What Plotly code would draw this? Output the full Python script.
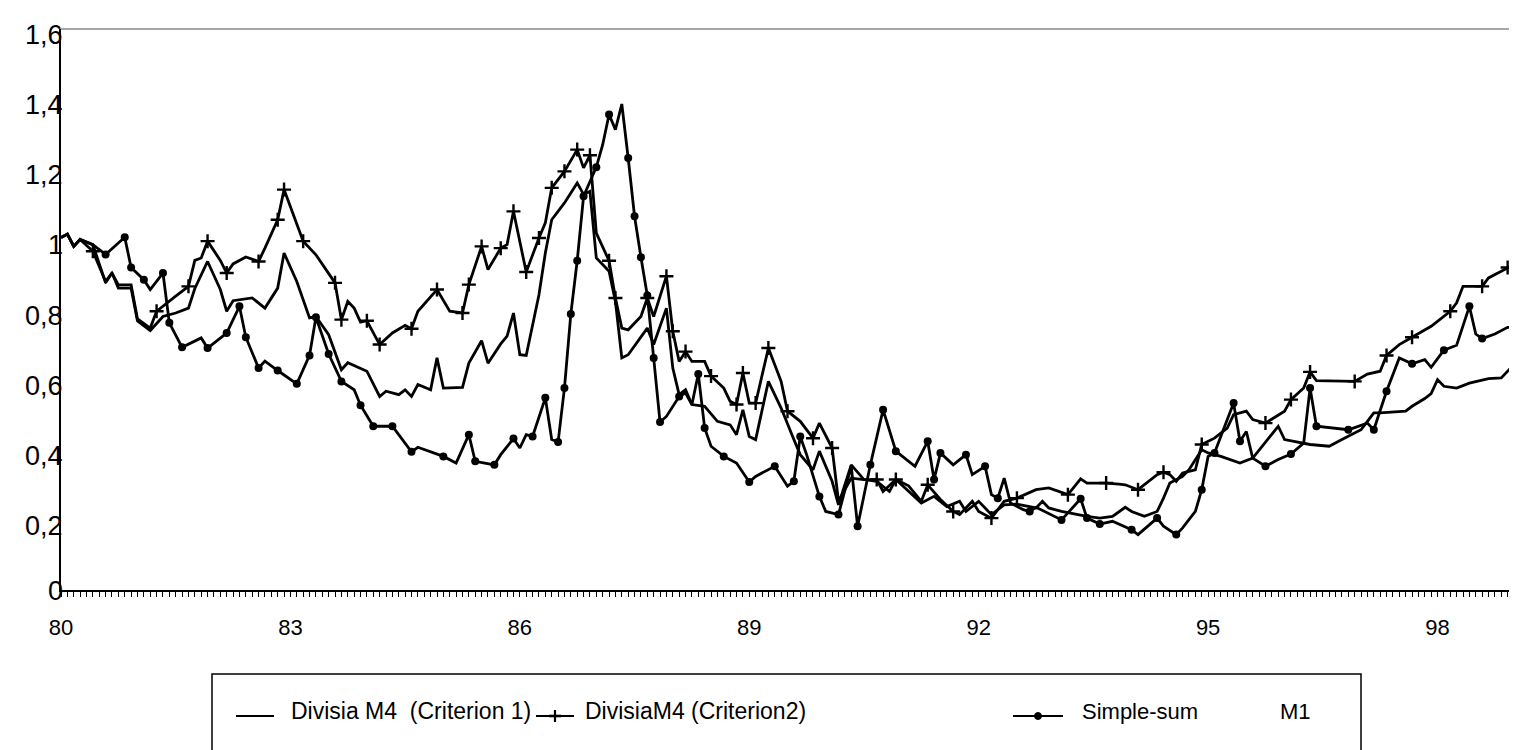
import plotly.graph_objects as go

# ---------------- data (months since 1980:01, values) ----------------
c1_months = [0,1,2,3,5,7,8,9,11,12,
             14,16,18,20,21,23,25,26,27,30,
             32,34,35,37,39,40,42,43,44,45,
             46,48,50,51,53,54,55,56,58,59,
             60,63,64,66,67,69,70,71,72,73,
             75,76,77,79,81,82,83,84,86,87,
             88,89,92,93,95,96,97,98,99,101,
             103,105,106,107,108,109,111,113,115,116,
             118,119,121,122,124,126,128,130,131,135,
             137,139,141,142,144,146,148,150,153,154,
             155,157,161,163,165,167,168,170,172,173,
             174,176,177,179,180,182,185,187,191,192,
             196,199,201,204,205,206,207,211,212,214,
             215,216,217,219,221,224,226,228]
c1_values = [1.005,1.015,0.98,1.0,0.985,0.876,0.904,0.861,0.861,0.767,
             0.74,0.78,0.79,0.804,0.86,0.937,0.857,0.795,0.825,0.833,
             0.804,0.861,0.961,0.88,0.776,0.78,0.728,0.676,0.628,0.648,
             0.64,0.624,0.552,0.567,0.557,0.571,0.552,0.586,0.571,0.662,
             0.576,0.578,0.647,0.711,0.647,0.702,0.724,0.79,0.671,0.669,
             0.842,0.961,1.056,1.104,1.161,1.128,1.137,0.947,0.909,0.823,
             0.662,0.671,0.747,0.7,0.804,0.633,0.557,0.571,0.529,0.524,
             0.481,0.471,0.443,0.514,0.438,0.429,0.595,0.519,0.429,0.386,
             0.343,0.396,0.31,0.243,0.357,0.315,0.31,0.281,0.315,0.248,
             0.267,0.238,0.253,0.224,0.253,0.215,0.243,0.245,0.234,0.253,
             0.234,0.224,0.21,0.205,0.21,0.236,0.224,0.21,0.224,0.262,
             0.305,0.324,0.343,0.4,0.391,0.381,0.362,0.376,0.467,0.429,
             0.415,0.41,0.429,0.457,0.481,0.505,0.505,0.51,0.524,0.546,
             0.56,0.6,0.581,0.576,0.59,0.603,0.605,0.643]

c2_months = [0,1,2,3,5,7,8,9,11,12,
             14,15,18,20,21,22,23,25,26,27,
             29,31,32,34,35,38,40,43,44,45,
             46,47,48,50,52,54,55,56,59,61,
             63,64,66,67,69,70,71,73,75,76,
             77,79,81,82,83,84,86,87,88,89,
             91,92,93,95,96,97,98,99,101,102,
             104,105,106,107,108,109,111,113,114,116,
             118,119,121,122,124,126,128,129,131,133,
             135,136,138,140,141,143,144,146,148,150,
             153,155,158,160,161,164,166,167,169,172,
             173,174,175,176,178,179,181,183,184,186,
             187,189,192,193,195,196,197,203,205,207,
             208,210,212,215,218,219,220,223,224,227,
             228]
c2_values = [1.005,1.015,0.98,1.0,0.966,0.88,0.904,0.87,0.87,0.773,
             0.747,0.795,0.838,0.866,0.94,0.947,0.995,0.94,0.904,0.93,
             0.95,0.937,0.975,1.056,1.142,0.995,0.956,0.876,0.771,0.823,
             0.804,0.764,0.768,0.7,0.733,0.755,0.745,0.795,0.857,0.795,
             0.79,0.871,0.98,0.914,0.975,0.985,1.08,0.907,1.004,1.047,
             1.147,1.194,1.256,1.204,1.24,1.018,0.939,0.833,0.747,0.742,
             0.78,0.833,0.78,0.895,0.738,0.652,0.68,0.652,0.652,0.61,
             0.576,0.538,0.529,0.619,0.533,0.533,0.69,0.595,0.51,0.481,
             0.433,0.476,0.405,0.253,0.319,0.315,0.315,0.281,0.315,0.297,
             0.253,0.3,0.258,0.224,0.215,0.253,0.224,0.205,0.253,0.262,
             0.286,0.291,0.272,0.317,0.305,0.305,0.302,0.3,0.286,0.329,
             0.336,0.329,0.31,0.334,0.343,0.415,0.433,0.462,0.5,0.51,
             0.486,0.476,0.51,0.543,0.576,0.622,0.597,0.595,0.616,0.624,
             0.669,0.7,0.721,0.752,0.795,0.819,0.866,0.866,0.89,0.92,
             0.928]
c2_marked = [5,15,20,23,26,31,34,35,38,43,44,48,50,55,59,63,64,66,69,71,73,75,77,
             79,81,83,86,87,92,95,96,98,102,106,107,109,111,114,118,121,128,131,
             136,140,146,150,158,164,169,173,179,189,193,196,203,208,212,218,223,227]

ss_months = [0,1,2,3,5,7,10,11,13,14,
             16,17,19,22,23,26,28,29,31,32,
             34,37,39,40,42,44,46,47,49,52,
             55,56,60,62,64,65,68,69,71,72,
             73,74,76,77,78,79,80,81,82,84,
             85,86,87,88,89,90,91,92,93,94,
             95,97,98,99,100,101,102,104,106,108,
             109,112,114,115,116,117,119,120,122,124,
             125,127,129,131,134,136,137,138,140,142,
             143,145,146,147,148,149,151,152,153,157,
             160,161,163,165,168,169,172,173,175,176,
             178,179,180,181,184,185,186,187,189,191,
             193,195,196,197,202,205,206,208,210,212,
             214,215,217,219,221,222,223,225,227,228]
ss_values = [1.005,1.015,0.98,1.0,0.985,0.957,1.006,0.92,0.885,0.857,
             0.904,0.762,0.692,0.719,0.69,0.733,0.809,0.721,0.633,0.653,
             0.626,0.588,0.669,0.778,0.673,0.595,0.571,0.527,0.467,0.467,
             0.394,0.407,0.381,0.362,0.443,0.367,0.357,0.386,0.432,0.405,
             0.443,0.438,0.548,0.429,0.422,0.576,0.787,0.939,1.123,1.206,
             1.27,1.356,1.313,1.386,1.232,1.066,0.949,0.84,0.662,0.479,
             0.495,0.552,0.562,0.529,0.616,0.462,0.41,0.381,0.362,0.308,
             0.324,0.353,0.296,0.31,0.438,0.386,0.267,0.224,0.215,0.353,
             0.182,0.357,0.514,0.396,0.353,0.424,0.315,0.391,0.357,0.386,
             0.329,0.353,0.272,0.262,0.319,0.248,0.229,0.224,0.236,0.2,
             0.26,0.205,0.188,0.196,0.172,0.158,0.205,0.182,0.158,0.177,
             0.224,0.286,0.381,0.391,0.533,0.424,0.452,0.376,0.353,0.372,
             0.388,0.419,0.576,0.467,0.457,0.476,0.457,0.567,0.662,0.645,
             0.657,0.635,0.684,0.698,0.809,0.73,0.717,0.73,0.749,0.75]
ss_marked = [7,10,11,13,16,17,19,23,26,28,29,31,34,37,39,40,42,44,47,49,52,55,60,
             64,65,68,71,74,76,78,79,80,81,82,84,86,89,90,91,92,93,94,97,100,101,
             104,108,112,115,116,119,122,125,127,129,131,136,137,138,142,145,147,
             152,157,160,161,163,168,172,175,179,181,184,185,189,193,196,197,202,
             206,208,212,217,221,223,228]

tick_years = [80, 83, 86, 89, 92, 95, 98]
tick_labels = ["80", "83", "86", "89", "92", "95", "98"]
y_ticks = [0, 0.2, 0.4, 0.6, 0.8, 1.0, 1.2, 1.4, 1.6]
y_labels = ["0", "0,2", "0,4", "0,6", "0,8", "1", "1,2", "1,4", "1,6"]

series_names = ["Divisia M4&nbsp; (Criterion 1)", "DivisiaM4 (Criterion2)", "Simple-sum", "M1"]

# ---------------- helpers ----------------
def years(months):
    return [80 + m / 12.0 for m in months]

def pick(months, values, marked):
    lut = dict(zip(months, values))
    mm = [m for m in marked if m in lut]
    return years(mm), [lut[m] for m in mm]

W, H = 1517, 750
L, R, T, B = 53, 11, 21, 168
PW, PH = W - L - R, H - T - B

def px(x):
    return (x - L) / PW

def py(y):
    return (H - B - y) / PH

FONT = "Liberation Sans, Arial, Helvetica, sans-serif"
LINE_W = 2.8

fig = go.Figure()
for mo, va in [(c1_months, c1_values), (c2_months, c2_values), (ss_months, ss_values)]:
    fig.add_trace(go.Scatter(x=years(mo), y=va, mode="lines",
                             line=dict(color="black", width=LINE_W), hoverinfo="skip"))
mx, my = pick(c2_months, c2_values, c2_marked)
fig.add_trace(go.Scatter(x=mx, y=my, mode="markers",
                         marker=dict(symbol="cross-thin", size=10,
                                     line=dict(color="black", width=2.4)),
                         hoverinfo="skip"))
mx, my = pick(ss_months, ss_values, ss_marked)
fig.add_trace(go.Scatter(x=mx, y=my, mode="markers",
                         marker=dict(symbol="circle", size=8, color="black"),
                         hoverinfo="skip"))

shapes = []
# grey top and right frame
shapes.append(dict(type="line", xref="paper", yref="paper", x0=0, x1=1, y0=1, y1=1,
                   line=dict(color="#8a8a8a", width=1.6)))
shapes.append(dict(type="line", xref="paper", yref="paper", x0=1, x1=1, y0=0, y1=1,
                   line=dict(color="#8a8a8a", width=1.6)))
# legend box
shapes.append(dict(type="rect", xref="paper", yref="paper",
                   x0=px(204), x1=px(1353), y0=py(745), y1=py(666),
                   line=dict(color="black", width=1.5)))
ly = py(708)
for (a, b) in [(228, 266), (528, 566), (1005, 1055)]:
    shapes.append(dict(type="line", xref="paper", yref="paper", x0=px(a), x1=px(b),
                       y0=ly, y1=ly, line=dict(color="black", width=1.8)))
# cross glyph in legend sample 2
shapes.append(dict(type="line", xref="paper", yref="paper", x0=px(547), x1=px(547),
                   y0=py(702), y1=py(714), line=dict(color="black", width=2.2)))
shapes.append(dict(type="line", xref="paper", yref="paper", x0=px(541), x1=px(553),
                   y0=ly, y1=ly, line=dict(color="black", width=2.6)))
# dot glyph in legend sample 3
shapes.append(dict(type="circle", xref="paper", yref="paper",
                   x0=px(1026.5), x1=px(1033.5), y0=py(711.5), y1=py(704.5),
                   fillcolor="black", line=dict(color="black", width=1)))

annotations = []
for v, t in zip(y_ticks, y_labels):
    annotations.append(dict(text=t, xref="paper", yref="y", x=0, y=v,
                            xanchor="right", yanchor="middle", xshift=4,
                            yshift=(-1 if v == 0 else -6),
                            showarrow=False, font=dict(family=FONT, size=27, color="black")))
leg = [(281, series_names[0], 23), (575, series_names[1], 23),
       (1072, series_names[2], 22), (1270, series_names[3], 22)]
for x, t, s in leg:
    annotations.append(dict(text=t, xref="paper", yref="paper", x=px(x), y=py(703),
                            xanchor="left", yanchor="middle", showarrow=False,
                            font=dict(family=FONT, size=s, color="black")))

fig.update_layout(
    width=W, height=H,
    margin=dict(l=L, r=R, t=T, b=B, pad=0),
    paper_bgcolor="white", plot_bgcolor="white",
    showlegend=False,
    shapes=shapes, annotations=annotations,
    font=dict(family=FONT, color="black"),
    xaxis=dict(range=[80, 99], showgrid=False, zeroline=False,
               showline=True, linecolor="black", linewidth=2.4,
               tickmode="array", tickvals=tick_years, ticktext=tick_labels,
               ticks="outside", ticklen=5, tickwidth=1.2, tickcolor="black",
               tickfont=dict(family=FONT, size=22, color="black"),
               ticklabelstandoff=11,
               minor=dict(tickmode="linear", tick0=80, dtick=1 / 12, ticks="outside",
                          ticklen=5, tickwidth=1.2, tickcolor="black", showgrid=False)),
    yaxis=dict(range=[0, 1.6], showgrid=False, zeroline=False,
               showline=True, linecolor="black", linewidth=2.4,
               showticklabels=False, ticks=""),
)

fig.write_html("out.html")
